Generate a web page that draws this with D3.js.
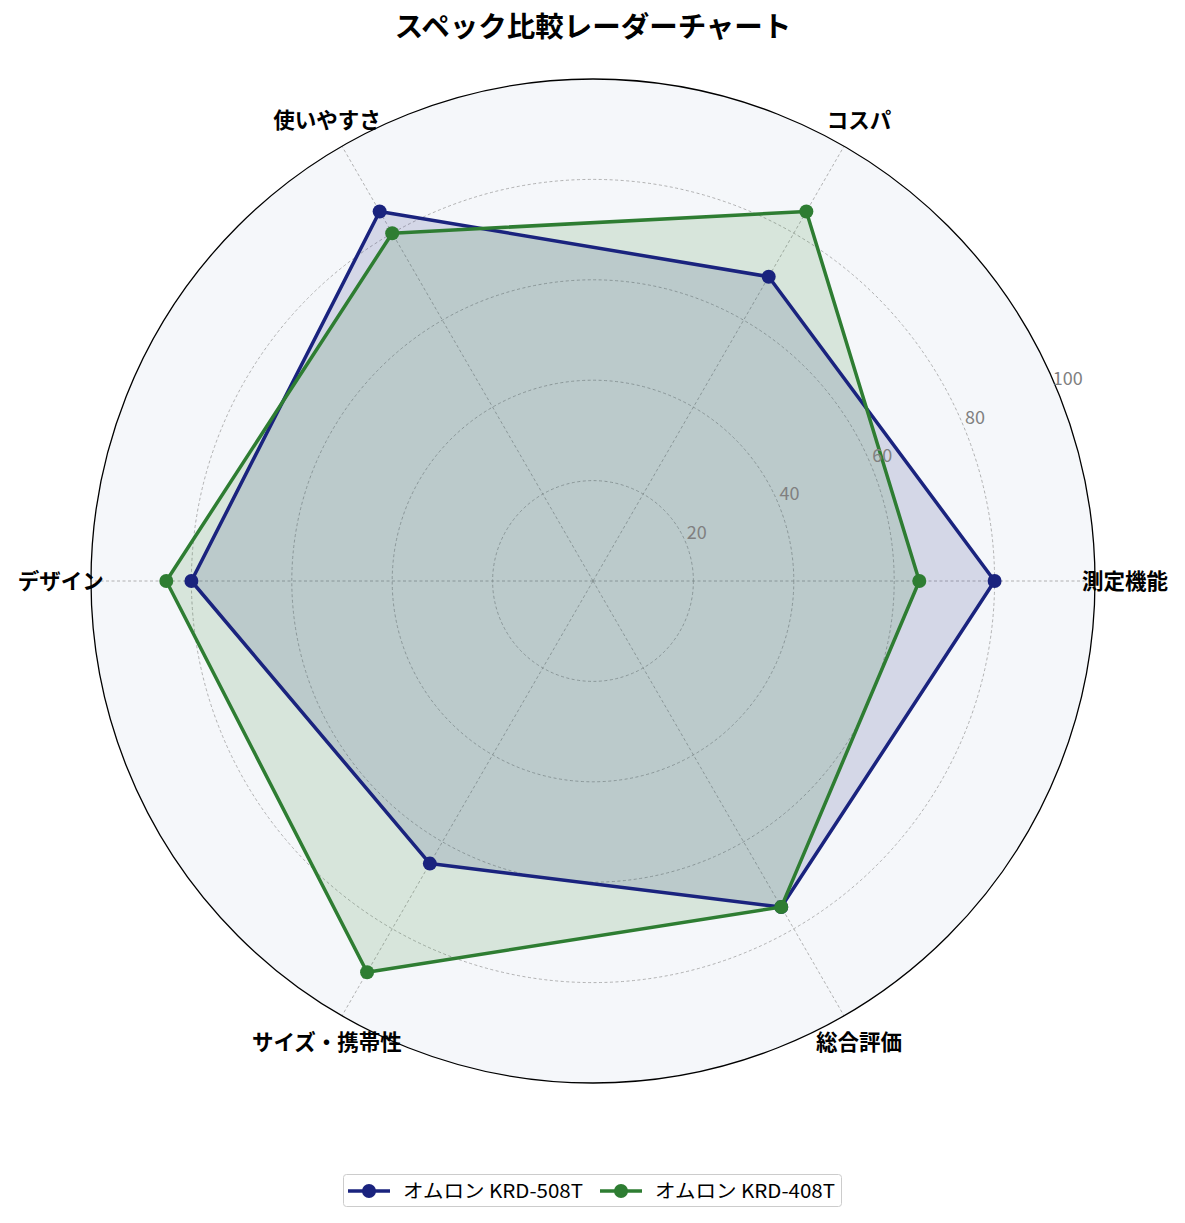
<!DOCTYPE html>
<html>
<head>
    <meta charset="utf-8">
    <title>スペック比較レーダーチャート</title>
    <script src="https://d3js.org/d3.v7.min.js"></script>
    <style>
        body { margin: 0; background: #fff; }
        text { font-family: "Noto Sans CJK JP", "Noto Sans", sans-serif; }
    </style>
</head>
<body>
    <div id="chart"></div>
    <script>

        // data
        var categories = ["測定機能", "コスパ", "使いやすさ", "デザイン", "サイズ・携帯性", "総合評価"];
        var seriesNames = ["オムロン KRD-508T", "オムロン KRD-408T"];
        var valuesA = [80, 70, 85, 80, 65, 75];
        var valuesB = [65, 85, 80, 85, 90, 75];
        var rTicks = [20, 40, 60, 80, 100];
        var colors = ["#1a237e", "#2e7d32"];

        var width = 1185, height = 1223;
        var cx = 593, cy = 581;
        var outerR = 502;

        var svg = d3.select("#chart")
            .append("svg")
            .attr("width", width)
            .attr("height", height);

        var rScale = d3.scaleLinear().domain([0, 100]).range([0, outerR]);
        // angle: category 0 at the right, counter-clockwise
        var angle = d3.scaleLinear().domain([0, categories.length]).range([0, 2 * Math.PI]);

        function px(i, v) { return cx + rScale(v) * Math.cos(angle(i)); }
        function py(i, v) { return cy - rScale(v) * Math.sin(angle(i)); }

        var g = svg.append("g");

        // background
        g.append("circle")
            .attr("cx", cx).attr("cy", cy).attr("r", outerR)
            .attr("fill", "#f5f7fa");

        // circular grid
        g.selectAll(".grid")
            .data(rTicks.slice(0, -1))
            .join("circle")
            .attr("cx", cx).attr("cy", cy)
            .attr("r", function(d) { return rScale(d); })
            .attr("fill", "none")
            .attr("stroke", "#a0a0a0")
            .attr("stroke-width", 0.8)
            .attr("stroke-dasharray", "3,2.5");

        // spokes
        g.selectAll(".spoke")
            .data(categories)
            .join("line")
            .attr("x1", cx).attr("y1", cy)
            .attr("x2", function(d, i) { return px(i, 100); })
            .attr("y2", function(d, i) { return py(i, 100); })
            .attr("stroke", "#a0a0a0")
            .attr("stroke-width", 0.8)
            .attr("stroke-dasharray", "3,2.5");

        // series
        var allValues = [valuesA, valuesB];
        allValues.forEach(function(vals, s) {
            var pts = vals.map(function(v, i) { return [px(i, v), py(i, v)]; });
            var line = d3.line().curve(d3.curveLinearClosed);
            g.append("path")
                .attr("d", line(pts))
                .attr("fill", colors[s])
                .attr("fill-opacity", 0.15)
                .attr("stroke", "none");
        });
        allValues.forEach(function(vals, s) {
            var pts = vals.map(function(v, i) { return [px(i, v), py(i, v)]; });
            var line = d3.line().curve(d3.curveLinearClosed);
            g.append("path")
                .attr("d", line(pts))
                .attr("fill", "none")
                .attr("stroke", colors[s])
                .attr("stroke-width", 3.5)
                .attr("stroke-linejoin", "round");
            g.selectAll(".pt" + s)
                .data(pts)
                .join("circle")
                .attr("cx", function(d) { return d[0]; })
                .attr("cy", function(d) { return d[1]; })
                .attr("r", 7)
                .attr("fill", colors[s]);
        });

        // outer ring
        g.append("circle")
            .attr("cx", cx).attr("cy", cy).attr("r", outerR)
            .attr("fill", "none")
            .attr("stroke", "#000")
            .attr("stroke-width", 1.3);

        // radial tick labels at 22.5 deg
        var la = 22.5 * Math.PI / 180;
        g.selectAll(".rlabel")
            .data(rTicks)
            .join("text")
            .attr("x", function(d) { return cx + rScale(d) * Math.cos(la) + 11; })
            .attr("y", function(d) { return cy - rScale(d) * Math.sin(la) - 10; })
            .attr("dy", "0.35em")
            .attr("text-anchor", "middle")
            .attr("fill", "#808080")
            .style("font-size", "18px")
            .text(function(d) { return d; });

        // category labels
        g.selectAll(".cat")
            .data(categories)
            .join("text")
            .attr("x", function(d, i) { return px(i, 106); })
            .attr("y", function(d, i) { return py(i, 106); })
            .attr("dy", "0.36em")
            .attr("text-anchor", "middle")
            .style("font-size", "21.5px")
            .style("font-weight", "bold")
            .text(function(d) { return d; });

        // title
        svg.append("text")
            .attr("x", cx)
            .attr("y", 27)
            .attr("dy", "0.36em")
            .attr("text-anchor", "middle")
            .style("font-size", "28.5px")
            .style("font-weight", "bold")
            .text("スペック比較レーダーチャート");

        // legend
        var legend = svg.append("g");
        legend.append("rect")
            .attr("x", 343.5).attr("y", 1174.5)
            .attr("width", 498).attr("height", 32)
            .attr("rx", 3)
            .attr("fill", "#fff")
            .attr("stroke", "#cccccc")
            .attr("stroke-width", 1);
        var lx = [348, 600];
        seriesNames.forEach(function(name, s) {
            var item = legend.append("g").attr("transform", "translate(" + lx[s] + ",1191)");
            item.append("line")
                .attr("x1", 0).attr("x2", 42)
                .attr("stroke", colors[s]).attr("stroke-width", 3.5);
            item.append("circle")
                .attr("cx", 21).attr("r", 7).attr("fill", colors[s]);
            item.append("text")
                .attr("x", 55).attr("dy", "0.36em")
                .attr("textLength", 180)
                .attr("lengthAdjust", "spacingAndGlyphs")
                .style("font-size", "19px")
                .text(name);
        });

    </script>
</body>
</html>
